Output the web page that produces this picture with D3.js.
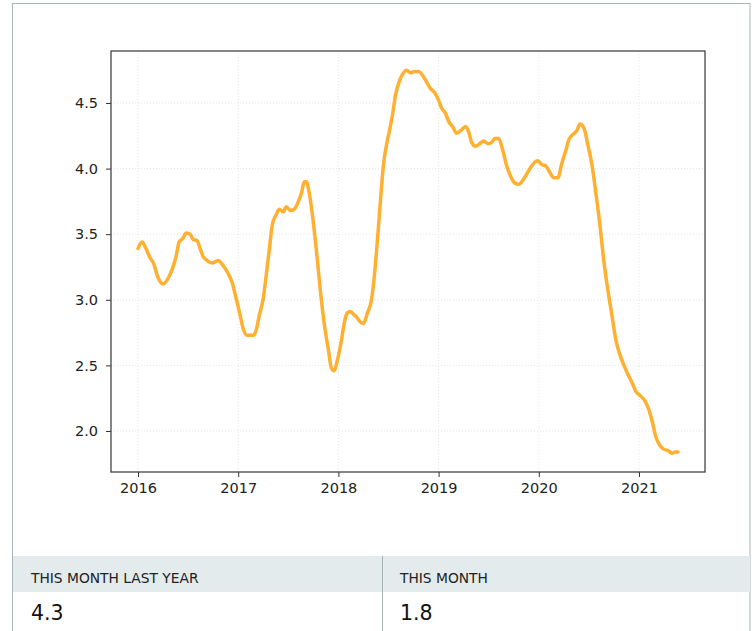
<!DOCTYPE html>
<html><head><meta charset="utf-8">
<script src="https://cdn.jsdelivr.net/npm/d3@7"></script>
<style>
html,body{margin:0;padding:0;background:#fff;}
svg{display:block;}
</style></head>
<body>
<svg id="chart" width="756" height="631"></svg>
<script>
// Data (decimal year, value)
const years = [2016.00,2016.04,2016.08,2016.12,2016.16,2016.19,2016.22,2016.25,2016.29,2016.34,2016.38,2016.41,2016.45,2016.48,2016.52,2016.55,2016.59,2016.62,2016.65,2016.69,2016.74,2016.80,2016.84,2016.90,2016.94,2016.98,2017.02,2017.05,2017.09,2017.15,2017.18,2017.21,2017.25,2017.28,2017.31,2017.34,2017.38,2017.41,2017.45,2017.48,2017.52,2017.56,2017.59,2017.63,2017.66,2017.68,2017.71,2017.74,2017.78,2017.82,2017.86,2017.90,2017.93,2017.96,2017.99,2018.03,2018.06,2018.09,2018.12,2018.15,2018.18,2018.22,2018.25,2018.29,2018.33,2018.36,2018.39,2018.42,2018.45,2018.48,2018.51,2018.54,2018.57,2018.61,2018.65,2018.68,2018.72,2018.76,2018.80,2018.84,2018.88,2018.92,2018.96,2019.00,2019.03,2019.07,2019.10,2019.14,2019.18,2019.22,2019.27,2019.30,2019.33,2019.37,2019.41,2019.45,2019.49,2019.53,2019.56,2019.60,2019.64,2019.68,2019.72,2019.76,2019.80,2019.84,2019.88,2019.92,2019.96,2019.99,2020.03,2020.07,2020.11,2020.15,2020.19,2020.23,2020.27,2020.30,2020.34,2020.38,2020.41,2020.45,2020.49,2020.53,2020.57,2020.61,2020.65,2020.69,2020.73,2020.77,2020.81,2020.85,2020.89,2020.93,2020.97,2021.01,2021.05,2021.09,2021.13,2021.17,2021.21,2021.25,2021.29,2021.33,2021.36,2021.39];
const values = [3.39,3.44,3.39,3.32,3.27,3.19,3.14,3.12,3.15,3.23,3.33,3.44,3.47,3.51,3.50,3.46,3.45,3.39,3.33,3.30,3.28,3.30,3.27,3.20,3.13,3.01,2.88,2.78,2.73,2.73,2.77,2.88,3.01,3.19,3.38,3.57,3.65,3.69,3.67,3.71,3.68,3.69,3.73,3.81,3.90,3.90,3.81,3.65,3.38,3.07,2.81,2.62,2.48,2.46,2.54,2.69,2.83,2.90,2.91,2.89,2.87,2.83,2.82,2.90,3.00,3.19,3.46,3.76,4.03,4.18,4.29,4.41,4.56,4.67,4.73,4.75,4.73,4.74,4.74,4.71,4.66,4.61,4.58,4.52,4.46,4.42,4.36,4.32,4.27,4.29,4.32,4.28,4.20,4.17,4.19,4.21,4.19,4.20,4.23,4.23,4.14,4.02,3.94,3.89,3.88,3.91,3.96,4.01,4.05,4.06,4.03,4.02,3.97,3.93,3.93,4.04,4.14,4.22,4.26,4.29,4.34,4.31,4.18,4.03,3.81,3.57,3.29,3.07,2.88,2.69,2.58,2.50,2.43,2.37,2.30,2.27,2.24,2.18,2.08,1.95,1.89,1.86,1.85,1.83,1.84,1.84];
const xTicks = [2016,2017,2018,2019,2020,2021];
const yTicks = [2.0,2.5,3.0,3.5,4.0,4.5];
const statLabels = ["THIS MONTH LAST YEAR","THIS MONTH"];
const statValues = ["4.3","1.8"];

const svg = d3.select("#chart");
const font = "DejaVu Sans, sans-serif";

// Card border
svg.append("rect").attr("x",12.5).attr("y",3.5).attr("width",737.5).attr("height",640)
  .attr("fill","none").attr("stroke","#a9b6b6").attr("stroke-width",1);

const L=111, R=705, T=51, B=472;
const x = d3.scaleLinear().domain([2015.7305, 2021.6587]).range([L,R]);
const y = d3.scaleLinear().domain([1.6875, 4.8963]).range([B,T]);

// grid
const g = svg.append("g");
g.selectAll(".gx").data(xTicks).join("line")
  .attr("x1",d=>x(d)).attr("x2",d=>x(d)).attr("y1",T).attr("y2",B)
  .attr("stroke","#e0e0e0").attr("stroke-width",0.8).attr("stroke-dasharray","1,2");
g.selectAll(".gy").data(yTicks).join("line")
  .attr("y1",d=>y(d)).attr("y2",d=>y(d)).attr("x1",L).attr("x2",R)
  .attr("stroke","#e0e0e0").attr("stroke-width",0.8).attr("stroke-dasharray","1,2");

// line
const pts = years.map((yr,i)=>[yr,values[i]]);
svg.append("path").datum(pts)
  .attr("fill","none").attr("stroke","#ffb030").attr("stroke-width",3.5)
  .attr("stroke-linejoin","round").attr("stroke-linecap","round")
  .attr("d", d3.line().x(d=>x(d[0])).y(d=>y(d[1])).curve(d3.curveMonotoneX));

// axes
const xAxis = svg.append("g").attr("transform",`translate(0,${B})`)
  .call(d3.axisBottom(x).tickValues(xTicks).tickFormat(d3.format("d")).tickSize(5).tickPadding(6));
const yAxis = svg.append("g").attr("transform",`translate(${L},0)`)
  .call(d3.axisLeft(y).tickValues(yTicks).tickFormat(d3.format(".1f")).tickSize(5).tickPadding(8));
[xAxis,yAxis].forEach(a=>{
  a.select(".domain").remove();
  a.selectAll("line").attr("stroke","#333").attr("stroke-width",1);
  a.selectAll("text").attr("font-family",font).attr("font-size",14.5).attr("fill","#222");
});
svg.append("rect").attr("x",L).attr("y",T).attr("width",R-L).attr("height",B-T)
  .attr("fill","none").attr("stroke","#444").attr("stroke-width",1.3);

// stats table
const colX = [13, 382], colW = [369, 368];
svg.selectAll(".hdr").data(statLabels).join("rect")
  .attr("x",(d,i)=>colX[i]).attr("y",556).attr("width",(d,i)=>colW[i]).attr("height",36)
  .attr("fill","#e3ebec");
svg.append("line").attr("x1",382.5).attr("x2",382.5).attr("y1",556).attr("y2",631)
  .attr("stroke","#a9b6b6").attr("stroke-width",1);
svg.selectAll(".hl").data(statLabels).join("text")
  .attr("x",(d,i)=>colX[i]+18).attr("y",583)
  .attr("font-family",font).attr("font-size",13.8).attr("fill","#222").text(d=>d);
svg.selectAll(".hv").data(statValues).join("text")
  .attr("x",(d,i)=>colX[i]+18).attr("y",620)
  .attr("font-family",font).attr("font-size",20.5).attr("fill","#111").text(d=>d);
</script>
</body></html>
